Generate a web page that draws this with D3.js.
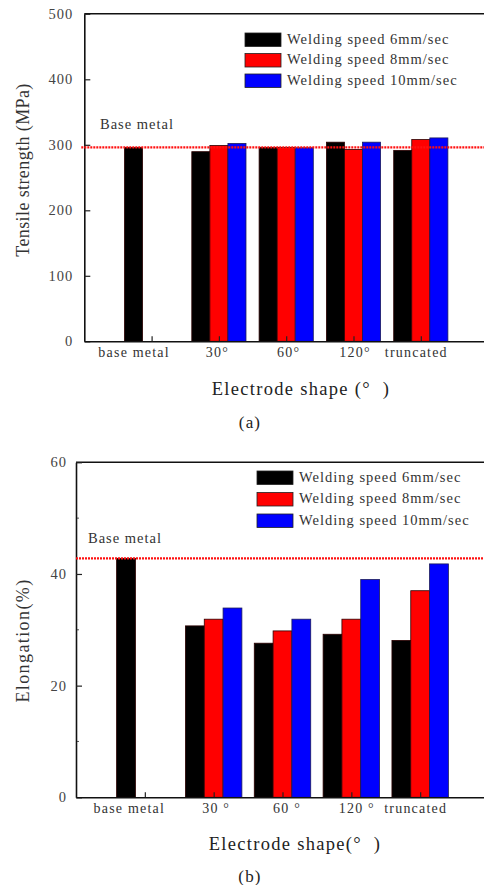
<!DOCTYPE html>
<html>
<head>
<meta charset="utf-8">
<script src="https://cdn.jsdelivr.net/npm/d3@7"></script>
<style>
  html, body { margin: 0; padding: 0; background: #fff; }
  svg { display: block; }
  svg text { font-family: "Liberation Serif", "Times New Roman", serif; }
</style>
</head>
<body>
<svg id="chart" width="484" height="885"></svg>
<script>
// Electrode shapes on the x axis
const categoriesA = ["base metal", "30°", "60°", "120°", "truncated"];
const categoriesB = ["base metal", "30 °", "60 °", "120 °", "truncated"];
const seriesNames = ["Welding speed 6mm/sec", "Welding speed 8mm/sec", "Welding speed 10mm/sec"];
const seriesColors = ["#000000", "#ff0000", "#0000ff"];

// Tensile strength (MPa); base metal has a single bar
const tensile6 = [296, 289.5, 296, 304, 291.5];
const tensile8 = [null, 299, 296, 293, 308];
const tensile10 = [null, 302, 295.5, 304, 310.5];
const tensileBaseLine = 296;
const tensileTicks = [0, 100, 200, 300, 400, 500];

// Elongation (%)
const elong6 = [42.8, 30.7, 27.6, 29.2, 28.1];
const elong8 = [null, 31.9, 29.8, 31.9, 37.0];
const elong10 = [null, 33.9, 31.9, 39.0, 41.8];
const elongBaseLine = 42.8;
const elongTicks = [0, 20, 40, 60];
const elongMinorTicks = [10, 30, 50];

const FONT = '"Liberation Serif", "Times New Roman", serif';
const svg = d3.select("#chart");

function drawPanel(cfg) {
  const g = svg.append("g");
  const x = d3.scaleLinear().domain([0, cfg.categories.length + 1]).range([cfg.left, cfg.right]);
  const y = d3.scaleLinear().domain([0, d3.max(cfg.ticks)]).range([cfg.bottom, cfg.top]);
  const step = x(1) - x(0);
  const sub = d3.scaleBand().domain(d3.range(cfg.series.length))
    .range([-step * cfg.groupFrac / 2, step * cfg.groupFrac / 2]).padding(0);

  // bars
  cfg.series.forEach((vals, si) => {
    g.append("g").selectAll("rect")
      .data(vals.map((v, i) => ({ v, i })).filter(d => d.v != null))
      .join("rect")
      .attr("x", d => x(d.i + 1) + sub(si))
      .attr("y", d => y(d.v))
      .attr("width", sub.bandwidth())
      .attr("height", d => y(0) - y(d.v))
      .attr("fill", seriesColors[si])
      .attr("stroke", si === 2 ? "#1a1a5a" : "#2a0000")
      .attr("stroke-width", 0.8);
  });

  // frame: top border
  g.append("line")
    .attr("x1", cfg.left).attr("x2", cfg.right)
    .attr("y1", cfg.top).attr("y2", cfg.top)
    .attr("stroke", "#111").attr("stroke-width", 1.6);

  // minor ticks on the y axis
  if (cfg.minorTicks) {
    g.append("g").selectAll("line").data(cfg.minorTicks).join("line")
      .attr("x1", cfg.left).attr("x2", cfg.left + 3)
      .attr("y1", d => y(d)).attr("y2", d => y(d))
      .attr("stroke", "#555").attr("stroke-width", 1);
  }

  // y axis with inward ticks
  const ya = g.append("g")
    .attr("transform", `translate(${cfg.left},0)`)
    .call(d3.axisLeft(y).tickValues(cfg.ticks).tickSizeInner(-6).tickSizeOuter(0).tickPadding(cfg.yPad));
  ya.select(".domain").attr("stroke", "#111").attr("stroke-width", 1.6);
  ya.selectAll(".tick line").attr("stroke", "#222").attr("stroke-width", 1.2);
  ya.selectAll(".tick text").attr("font-size", 14.5).attr("fill", "#444")
    .attr("letter-spacing", 1).style("font-family", FONT);

  // x axis with inward ticks
  const xa = g.append("g")
    .attr("transform", `translate(0,${cfg.bottom})`)
    .call(d3.axisBottom(x).tickValues(d3.range(1, cfg.categories.length + 1))
      .tickFormat(d => cfg.categories[d - 1]).tickSizeInner(-5).tickSizeOuter(0).tickPadding(6));
  xa.select(".domain").attr("stroke", "#111").attr("stroke-width", 1.6);
  xa.selectAll(".tick line").attr("stroke", "#222").attr("stroke-width", 1.2);
  xa.selectAll(".tick text").attr("font-size", 14).attr("fill", "#333")
    .attr("letter-spacing", 1.2)
    .attr("dx", (d, i) => cfg.labelShift[i])
    .style("font-family", FONT);

  // base metal reference line
  g.append("line")
    .attr("x1", cfg.left - cfg.refOverhang).attr("x2", cfg.right)
    .attr("y1", y(cfg.baseLine)).attr("y2", y(cfg.baseLine))
    .attr("stroke", "#ff1010").attr("stroke-width", 2.2)
    .attr("stroke-dasharray", "2,1");
  g.append("text")
    .attr("x", cfg.baseLabelX).attr("y", y(cfg.baseLine) - cfg.baseLabelGap)
    .attr("font-size", 14.5).attr("letter-spacing", 1).attr("fill", "#333")
    .text("Base metal");

  // legend
  const lg = g.append("g").attr("transform", `translate(${cfg.legendX},${cfg.legendY})`);
  seriesNames.forEach((name, i) => {
    const row = lg.append("g").attr("transform", `translate(0,${i * cfg.legendStep})`);
    row.append("rect").attr("x", 0).attr("y", 0).attr("width", 36).attr("height", 13.5)
      .attr("fill", seriesColors[i]).attr("stroke", "#222").attr("stroke-width", 0.8);
    row.append("text").attr("x", 42).attr("y", 10.8)
      .attr("font-size", 14.5).attr("letter-spacing", 1).attr("fill", "#333").text(name);
  });

  // axis titles and caption
  g.append("text")
    .attr("transform", `translate(${cfg.yTitleX},${cfg.yTitleY}) rotate(-90)`)
    .attr("text-anchor", "middle").attr("font-size", 18).attr("fill", "#333")
    .attr("letter-spacing", cfg.yTitleSpacing)
    .text(cfg.yTitle);
  g.append("text")
    .attr("x", cfg.xTitleX).attr("y", cfg.xTitleY)
    .attr("text-anchor", "middle").attr("font-size", 18.5).attr("fill", "#222")
    .attr("letter-spacing", 1.3)
    .style("white-space", "pre")
    .text(cfg.xTitle);
  g.append("text")
    .attr("x", 250).attr("y", cfg.captionY)
    .attr("text-anchor", "middle").attr("font-size", 17).attr("fill", "#222")
    .attr("letter-spacing", 1.2)
    .text(cfg.caption);
}

drawPanel({
  categories: categoriesA,
  series: [tensile6, tensile8, tensile10],
  baseLine: tensileBaseLine,
  ticks: tensileTicks,
  left: 84.3, right: 488.1, top: 13.8, bottom: 341.3,
  yPad: 11,
  groupFrac: 0.805,
  labelShift: [-18, -2, 2, 1, -5],
  refOverhang: 3,
  baseLabelX: 100, baseLabelGap: 18,
  legendX: 245, legendY: 33,
  legendStep: 20.5,
  yTitle: "Tensile strength (MPa)", yTitleX: 28.5, yTitleY: 170, yTitleSpacing: 0.4,
  xTitle: "Electrode shape (°  )", xTitleX: 301, xTitleY: 395,
  caption: "(a)", captionY: 428
});

drawPanel({
  categories: categoriesB,
  series: [elong6, elong8, elong10],
  baseLine: elongBaseLine,
  ticks: elongTicks,
  minorTicks: elongMinorTicks,
  left: 76, right: 489, top: 462.3, bottom: 797.3,
  yPad: 9,
  groupFrac: 0.82,
  labelShift: [-16, 2, 4, 5, -5],
  refOverhang: 0,
  baseLabelX: 88, baseLabelGap: 15,
  legendX: 257, legendY: 471,
  legendStep: 21.5,
  yTitle: "Elongation(%)", yTitleX: 28.5, yTitleY: 640.5, yTitleSpacing: 1.4,
  xTitle: "Electrode shape(°  )", xTitleX: 295, xTitleY: 850,
  caption: "(b)", captionY: 882
});
</script>
</body>
</html>
